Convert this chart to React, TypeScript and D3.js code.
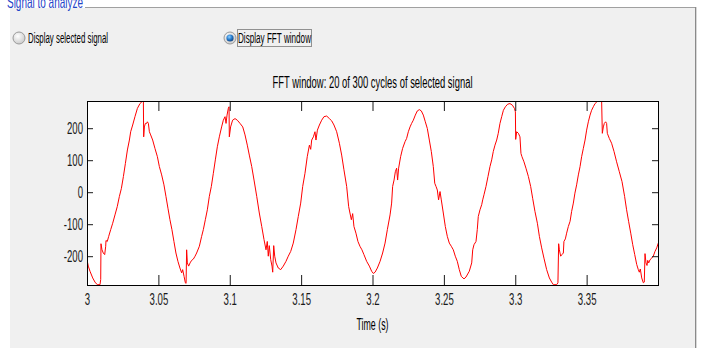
import { useEffect, useRef } from "react";
import * as d3 from "d3";

// samples (seconds, signal units)
const timeS = [
  3.0000, 3.0009, 3.0021, 3.0040, 3.0056, 3.0072, 3.0091, 3.0096, 3.0098, 3.0105,
  3.0114, 3.0124, 3.0131, 3.0133, 3.0142, 3.0152, 3.0166, 3.0180, 3.0196, 3.0212,
  3.0227, 3.0241, 3.0255, 3.0269, 3.0283, 3.0297, 3.0306, 3.0320, 3.0336, 3.0353,
  3.0371, 3.0390, 3.0395, 3.0397, 3.0402, 3.0409, 3.0418, 3.0423, 3.0430, 3.0437,
  3.0446, 3.0460, 3.0476, 3.0493, 3.0507, 3.0523, 3.0539, 3.0553, 3.0567, 3.0581,
  3.0595, 3.0609, 3.0623, 3.0637, 3.0651, 3.0663, 3.0670, 3.0680, 3.0689, 3.0694,
  3.0698, 3.0703, 3.0712, 3.0722, 3.0733, 3.0745, 3.0757, 3.0768, 3.0787, 3.0803,
  3.0815, 3.0829, 3.0843, 3.0857, 3.0871, 3.0885, 3.0899, 3.0913, 3.0927, 3.0943,
  3.0955, 3.0967, 3.0974, 3.0981, 3.0990, 3.0995, 3.0997, 3.1006, 3.1020, 3.1037,
  3.1053, 3.1072,
  3.1091, 3.1107, 3.1123, 3.1137, 3.1154, 3.1170, 3.1189, 3.1207, 3.1224, 3.1240,
  3.1254, 3.1263, 3.1270, 3.1277, 3.1287, 3.1296, 3.1301, 3.1308, 3.1315, 3.1324,
  3.1340, 3.1357, 3.1375, 3.1394, 3.1410, 3.1427, 3.1445, 3.1464, 3.1480, 3.1497,
  3.1511, 3.1527, 3.1543, 3.1558, 3.1567, 3.1574, 3.1586, 3.1597, 3.1604, 3.1614,
  3.1628, 3.1644, 3.1660, 3.1679, 3.1698, 3.1714, 3.1730, 3.1749, 3.1768, 3.1784,
  3.1800, 3.1819, 3.1833, 3.1842, 3.1852, 3.1861, 3.1870, 3.1884, 3.1898, 3.1912,
  3.1926, 3.1940, 3.1959, 3.1978, 3.1994, 3.2006, 3.2018, 3.2034, 3.2053, 3.2071,
  3.2088, 3.2104, 3.2123, 3.2134, 3.2141, 3.2151, 3.2160, 3.2169, 3.2176, 3.2183,
  3.2197, 3.2211, 3.2228, 3.2239, 3.2251, 3.2263, 3.2274, 3.2286, 3.2300, 3.2314,
  3.2328, 3.2342, 3.2356, 3.2370, 3.2384, 3.2398, 3.2412, 3.2426, 3.2436, 3.2445,
  3.2454, 3.2463, 3.2473, 3.2482, 3.2496, 3.2510, 3.2524, 3.2538, 3.2552, 3.2566,
  3.2580, 3.2594, 3.2608, 3.2622, 3.2641,
  3.2655, 3.2678, 3.2695, 3.2702, 3.2711, 3.2725, 3.2734, 3.2741, 3.2753, 3.2765,
  3.2772, 3.2781, 3.2795, 3.2809, 3.2823, 3.2835, 3.2846, 3.2858, 3.2870, 3.2881,
  3.2893, 3.2905, 3.2917, 3.2931, 3.2947, 3.2963, 3.2980, 3.2994, 3.3001, 3.3003,
  3.3010, 3.3022, 3.3033, 3.3040, 3.3047, 3.3061, 3.3075, 3.3092, 3.3108, 3.3122,
  3.3138, 3.3155, 3.3169, 3.3185, 3.3201, 3.3220, 3.3239, 3.3255, 3.3267, 3.3290,
  3.3299, 3.3304, 3.3309, 3.3318, 3.3327, 3.3337, 3.3341, 3.3351, 3.3360, 3.3372,
  3.3384, 3.3395, 3.3407, 3.3418, 3.3430, 3.3442, 3.3454, 3.3465, 3.3477, 3.3489,
  3.3500, 3.3512, 3.3524, 3.3535, 3.3547, 3.3559, 3.3575, 3.3594, 3.3605, 3.3610,
  3.3617, 3.3624, 3.3633, 3.3640, 3.3645, 3.3659, 3.3675, 3.3692, 3.3710, 3.3729,
  3.3748, 3.3766, 3.3780, 3.3794, 3.3809, 3.3823, 3.3837, 3.3851, 3.3862, 3.3869,
  3.3876, 3.3886, 3.3897, 3.3904, 3.3909, 3.3916, 3.3923, 3.3928, 3.3935, 3.3944,
  3.3956, 3.3967, 3.3979, 3.3991, 3.4002,
];

const signal = [
  -211, -231, -247, -268, -281, -289, -289, -273, -161, -180,
  -190, -195, -169, -151, -154, -138, -117, -97, -71, -45,
  -13, 12, 49, 90, 132, 163, 189, 210, 236, 262,
  277, 285, 282, 173, 204, 215, 215, 220, 215, 189,
  179, 163, 137, 111, 80, 54, 23, -13, -50, -86,
  -117, -154, -190, -216, -237, -252, -242, -263, -283, -285,
  -180, -221, -231, -221, -213, -209, -200, -190, -169, -138,
  -117, -86, -55, -13, 18, 59, 101, 142, 173, 204,
  225, 236, 215, 241, 262, 267, 173, 204, 225, 230,
  225, 215,
  204, 179, 147, 116, 80, 38, -13, -65, -107, -148,
  -180, -154, -200, -167, -211, -231, -250, -167, -200, -221,
  -237, -242, -231, -216, -200, -185, -159, -117, -76, -34,
  18, 59, 111, 147, 134, 163, 173, 189, 163, 194,
  210, 225, 236, 238, 230, 223, 210, 189, 153, 116,
  70, 18, -45, -65, -86, -67, -107, -128, -154, -169,
  -180, -195, -216, -231, -247, -254, -250, -237, -216, -190,
  -159, -117, -71, -34, 18, 38, 64, 75, 38, 75,
  111, 137, 158, 168, 189, 204, 215, 225, 241, 254,
  258, 254, 241, 220, 199, 163, 127, 80, 28, 18,
  7, -24, 2, -24, -65, -107, -138, -159, -169, -180,
  -200, -216, -242, -263, -271,
  -265, -247, -221, -180, -164, -154, -117, -76, -55, -39,
  -24, -8, 18, 49, 80, 101, 127, 147, 163, 184,
  215, 236, 256, 267, 275, 277, 272, 262, 251, 165,
  189, 184, 173, 121, 111, 95, 75, 49, 18, -19,
  -60, -97, -138, -174, -206, -242, -268, -281, -289, -289,
  -283, -161, -180, -200, -195, -190, -154, -146, -128, -107,
  -91, -60, -34, -3, 23, 54, 80, 111, 137, 163,
  194, 220, 241, 256, 267, 277, 284, 285, 288, 184,
  204, 215, 220, 215, 184, 168, 153, 127, 95, 64,
  33, -13, -55, -91, -128, -164, -195, -226, -242, -250,
  -240, -268, -283, -281, -192, -221, -229, -213, -221, -211,
  -206, -200, -185, -174, -159,
];

const xTicks = [3, 3.05, 3.1, 3.15, 3.2, 3.25, 3.3, 3.35];
const yTicks = [-200, -100, 0, 100, 200];
const xDomain = [3, 3.4];
const yDomain = [-290, 285];

const title = "FFT window: 20 of 300 cycles of selected signal";
const xLabel = "Time (s)";
const groupTitle = "Signal to analyze";
const radioLabels = ["Display selected signal", "Display FFT window"];

const W = 704;
const H = 348;
const plot = { left: 87, right: 658, top: 101, bottom: 285 };
const FONT = "'Liberation Sans', Arial, sans-serif";
// the screenshot is squashed horizontally, so text is squeezed to match
const SQUEEZE = 0.6;

export default function App() {
  const ref = useRef<SVGSVGElement>(null);

  useEffect(() => {
    const svg = d3.select(ref.current);
    const g = svg.select<SVGGElement>("g.axes");
    g.selectAll("*").remove();

    const x = d3.scaleLinear().domain(xDomain).range([plot.left, plot.right]);
    const y = d3.scaleLinear().domain(yDomain).range([plot.bottom, plot.top]);

    const points = timeS.map((t, i) => [t, signal[i]] as [number, number]);
    const line = d3.line<[number, number]>()
      .x((d) => x(d[0]))
      .y((d) => y(d[1]));

    g.append("path")
      .attr("d", line(points))
      .attr("clip-path", "url(#plotClip)")
      .attr("fill", "none")
      .attr("stroke", "#ff0000")
      .attr("stroke-width", 1);

    const bottom = g.append("g")
      .attr("transform", `translate(0,${plot.bottom})`)
      .call(d3.axisBottom(x).tickValues(xTicks).tickSize(-10).tickPadding(9).tickFormat((d) => String(d)));
    const top = g.append("g")
      .attr("transform", `translate(0,${plot.top})`)
      .call(d3.axisTop(x).tickValues(xTicks).tickSize(-10).tickFormat(() => ""));
    const left = g.append("g")
      .attr("transform", `translate(${plot.left},0)`)
      .call(d3.axisLeft(y).tickValues(yTicks).tickSize(-6).tickPadding(4).tickFormat((d) => String(d)));
    const right = g.append("g")
      .attr("transform", `translate(${plot.right},0)`)
      .call(d3.axisRight(y).tickValues(yTicks).tickSize(-6).tickFormat(() => ""));

    for (const a of [bottom, top, left, right]) {
      a.select(".domain").remove();
      a.selectAll("line").attr("stroke", "#1a1a1a");
      a.selectAll("text")
        .classed("squeeze", true)
        .attr("fill", "#1a1a1a")
        .style("font-family", FONT)
        .style("font-size", "16px");
    }
    left.selectAll("text").attr("dy", "0.36em");

    g.append("rect")
      .attr("x", plot.left + 0.5)
      .attr("y", plot.top + 0.5)
      .attr("width", plot.right - plot.left)
      .attr("height", plot.bottom - plot.top)
      .attr("fill", "none")
      .attr("stroke", "#000");

    svg.selectAll<SVGTextElement, unknown>("text.squeeze").each(function () {
      if (this.getAttribute("textLength")) return;
      const w = this.getComputedTextLength();
      this.setAttribute("textLength", String(w * SQUEEZE));
      this.setAttribute("lengthAdjust", "spacingAndGlyphs");
    });
  }, []);

  return (
    <svg ref={ref} width={W} height={H} style={{ position: "absolute", left: 0, top: 0 }}>
      <defs>
        <clipPath id="plotClip">
          <rect x={plot.left} y={plot.top} width={plot.right - plot.left} height={plot.bottom - plot.top} />
        </clipPath>
        <radialGradient id="radioOff" cx="0.4" cy="0.35" r="0.7">
          <stop offset="0" stopColor="#ffffff" />
          <stop offset="1" stopColor="#c8c8c8" />
        </radialGradient>
        <radialGradient id="radioDot" cx="0.4" cy="0.35" r="0.7">
          <stop offset="0" stopColor="#8fd0ff" />
          <stop offset="0.5" stopColor="#2a7fd0" />
          <stop offset="1" stopColor="#0c3c78" />
        </radialGradient>
      </defs>

      <rect x={0} y={0} width={W} height={H} fill="#ffffff" />
      <rect x={10} y={8} width={685} height={H - 8} fill="#f0f0f0" />
      <line x1={85} x2={696} y1={7.5} y2={7.5} stroke="#a0a0a0" />
      <line x1={695.5} x2={695.5} y1={7} y2={H} stroke="#8a8a8a" />
      <line x1={696.5} x2={696.5} y1={7} y2={H} stroke="#d8d8d8" />

      <text x={7} y={8} fill="#1f44c8" fontFamily={FONT} fontSize={17}
        textLength={76} lengthAdjust="spacingAndGlyphs">{groupTitle}</text>

      <circle cx={19} cy={38} r={6} fill="url(#radioOff)" stroke="#9a9a9a" />
      <text x={28} y={43} fill="#000" fontFamily={FONT} fontSize={14}
        textLength={80} lengthAdjust="spacingAndGlyphs">{radioLabels[0]}</text>

      <circle cx={230} cy={38} r={6} fill="url(#radioOff)" stroke="#9a9a9a" />
      <circle cx={230} cy={38} r={3.6} fill="url(#radioDot)" />
      <rect x={237.5} y={29.5} width={74} height={17} fill="none" stroke="#333"
        strokeDasharray="1 1" />
      <text x={238} y={43} fill="#000" fontFamily={FONT} fontSize={14}
        textLength={73} lengthAdjust="spacingAndGlyphs">{radioLabels[1]}</text>

      <rect x={plot.left} y={plot.top} width={plot.right - plot.left} height={plot.bottom - plot.top} fill="#ffffff" />

      <text x={(plot.left + plot.right) / 2} y={88} textAnchor="middle" fill="#000"
        fontFamily={FONT} fontSize={16} textLength={200} lengthAdjust="spacingAndGlyphs">{title}</text>
      <text x={(plot.left + plot.right) / 2} y={330} textAnchor="middle" fill="#000"
        fontFamily={FONT} fontSize={16} textLength={32} lengthAdjust="spacingAndGlyphs">{xLabel}</text>

      <g className="axes" />
    </svg>
  );
}
